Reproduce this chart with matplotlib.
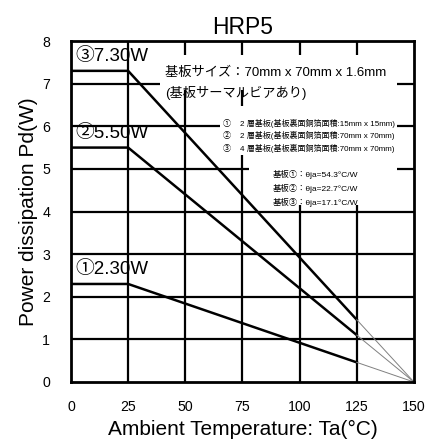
import numpy as np
import matplotlib
matplotlib.use('Agg')
import matplotlib.pyplot as plt
from matplotlib.patches import Rectangle

plt.rcParams['font.family'] = ['Liberation Sans', 'Noto Sans CJK JP', 'DejaVu Sans']

# derating curves: flat up to 25 C, linear down to Tj max 150 C
t_flat = 25
t_stop = 125
t_max = 150
pd_max = [2.30, 5.50, 7.30]
labels = ['①2.30W', '②5.50W', '③7.30W']

board_note = ['基板サイズ：70mm x 70mm x 1.6mm', '(基板サーマルビアあり)']
board_list = ['①    2 層基板(基板裏面銅箔面積:15mm x 15mm)',
              '②    2 層基板(基板裏面銅箔面積:70mm x 70mm)',
              '③    4 層基板(基板裏面銅箔面積:70mm x 70mm)']
theta_list = ['基板①：θja=54.3°C/W',
              '基板②：θja=22.7°C/W',
              '基板③：θja=17.1°C/W']

xticks = [0, 25, 50, 75, 100, 125, 150]
yticks = [0, 1, 2, 3, 4, 5, 6, 7, 8]

fig = plt.figure(figsize=(4.25, 4.43), dpi=100)
ax = fig.add_axes([0.167, 0.1377, 0.807, 0.7697])
ax.set_xlim(0, 150)
ax.set_ylim(0, 8)

# grid
for x in xticks[1:-1]:
    ax.axvline(x, color='black', lw=1.6, zorder=1)
for y in yticks[1:-1]:
    ax.axhline(y, color='black', lw=1.6, zorder=1)

# white boxes behind the notes
for (x0, y0, w, h) in [(39, 6.85, 103.5, 0.82), (78, 4.15, 64.5, 3.5), (65, 5.33, 77.5, 1.14)]:
    ax.add_patch(Rectangle((x0, y0), w, h, facecolor='white', edgecolor='none', zorder=2))

for p, lab in zip(pd_max, labels):
    p_stop = p * (t_max - t_stop) / (t_max - t_flat)
    ax.plot([0, t_flat, t_stop], [p, p, p_stop], color='black', lw=1.8, zorder=4)
    ax.plot([t_stop, t_max], [p_stop, 0], color='gray', lw=0.7, zorder=4)
    ax.text(2, p + 0.34, lab, fontsize=13.5, va='center', ha='left', zorder=5)

ax.text(41, 7.25, board_note[0], fontsize=9.5, va='center', ha='left', zorder=5)
ax.text(41, 6.78, board_note[1], fontsize=9.5, va='center', ha='left', zorder=5)
for i, s in enumerate(board_list):
    ax.text(66.5, 6.06 - 0.285 * i, s, fontsize=5.8, va='center', ha='left', zorder=5)
for i, s in enumerate(theta_list):
    ax.text(88.3, 4.88 - 0.33 * i, s, fontsize=6.0, va='center', ha='left', zorder=5)

ax.set_xticks(xticks)
ax.set_yticks(yticks)
ax.tick_params(length=0, labelsize=10.2)
ax.tick_params(axis='x', pad=13)
ax.tick_params(axis='y', pad=15)
for sp in ax.spines.values():
    sp.set_linewidth(2.0)
    sp.set_zorder(6)

ax.set_xlabel('Ambient Temperature: Ta(°C)', fontsize=15, labelpad=4)
ax.set_ylabel('Power dissipation Pd(W)', fontsize=15, labelpad=3)
ax.set_title('HRP5', fontsize=16.5, pad=5)

fig.savefig('out.png', dpi=100)
plt.close(fig)
